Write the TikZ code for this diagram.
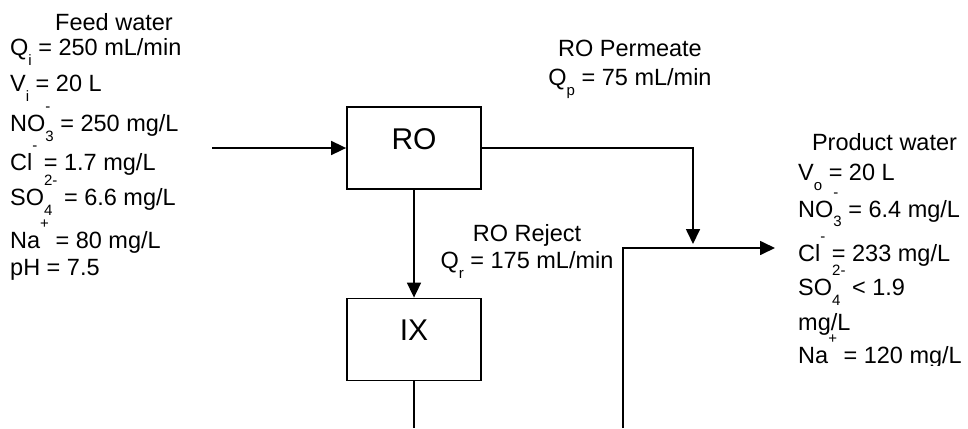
\documentclass[tikz,border=0pt]{standalone}
\usepackage{fontspec}
\setmainfont{Liberation Sans}
\usetikzlibrary{arrows.meta}
\newbox\ionboxA
\newbox\ionboxB
\newdimen\ionwd
\newcommand\subfnt{\fontsize{15}{15}\selectfont}
\newcommand\chemion[2]{\setbox\ionboxA\hbox{\subfnt #1}\setbox\ionboxB\hbox{\subfnt #2}%
 \ionwd=\wd\ionboxA \ifdim\wd\ionboxB>\ionwd \ionwd=\wd\ionboxB\fi
 \hbox to\ionwd{\rlap{\raise0.85em\copy\ionboxB}\lower0.42em\copy\ionboxA\hss}}
\begin{document}
\begin{tikzpicture}[x=1pt,y=-1pt,
  font=\fontsize{23.5}{28}\selectfont,
  txt/.style={inner sep=0pt, anchor=base west},
  ctr/.style={inner sep=0pt, anchor=base},
  unit/.style={draw, line width=1.8pt, minimum width=134pt, minimum height=82pt,
    inner sep=0pt, font=\fontsize{30}{30}\selectfont, text height=22pt, text depth=20pt},
  pipe/.style={line width=1.7pt},
  flow/.style={pipe, -{Triangle[length=15pt,width=14pt]}}]
\useasboundingbox (0,0) rectangle (968,428);

% units
\node[unit] (ro) at (414,148) {RO};
\node[unit] (ix) at (414,339.5) {IX};

% feed water
\node[ctr] (fw) at (114,30.4) {Feed water};
\node[txt] (fq) at (10,55.4) {Q\chemion{i}{} = 250 mL/min};
\node[txt] (fv) at (10,91.4) {V\chemion{i}{} = 20 L};
\node[txt] (fno) at (10,131.4) {NO\chemion{3}{-} = 250 mg/L};
\node[txt] (fcl) at (10,170.4) {Cl\chemion{}{-} = 1.7 mg/L};
\node[txt] (fso) at (10,205.4) {SO\chemion{4}{2-} = 6.6 mg/L};
\node[txt] (fna) at (10,248.4) {Na\chemion{}{+} = 80 mg/L};
\node[txt] (fph) at (10,275.4) {pH = 7.5};

% permeate / reject labels
\node[ctr] (perml) at (630,56.4) {RO Permeate};
\node[ctr] (permq) at (630,85.4) {Q\chemion{p}{} = 75 mL/min};
\node[ctr] (rejl) at (527,241.4) {RO Reject};
\node[ctr] (rejq) at (527,268.4) {Q\chemion{r}{} = 175 mL/min};

% product water
\begin{scope}
\clip (780,100) rectangle (968,365);
\node[ctr] (pw) at (884.5,150.4) {Product water};
\node[txt] (pv) at (798,180.4) {V\chemion{o}{} = 20 L};
\node[txt] (pno) at (798,217) {NO\chemion{3}{-} = 6.4 mg/L};
\node[txt] (pcl) at (798,261) {Cl\chemion{}{-} = 233 mg/L};
\node[txt] (pso) at (798,295.4) {SO\chemion{4}{2-} < 1.9};
\node[txt] (pmg) at (798,330) {mg/L};
\node[txt] (pna) at (798,363.4) {Na\chemion{}{+} = 120 mg/L};
\end{scope}

% connectors
\coordinate (feedin) at (212,148);
\coordinate (permout) at (693,244);
\coordinate (ixout) at (414,428);
\coordinate (rejin) at (623,428);
\coordinate (prodin) at (775,248);
\draw[flow] (feedin) -- (ro.west);
\draw[flow] (ro.east) -| (permout);
\draw[flow] (ro.south) -- (ix.north);
\draw[pipe] (ix.south) -- (ixout);
\draw[flow] (rejin) |- (prodin);
\end{tikzpicture}
\end{document}
